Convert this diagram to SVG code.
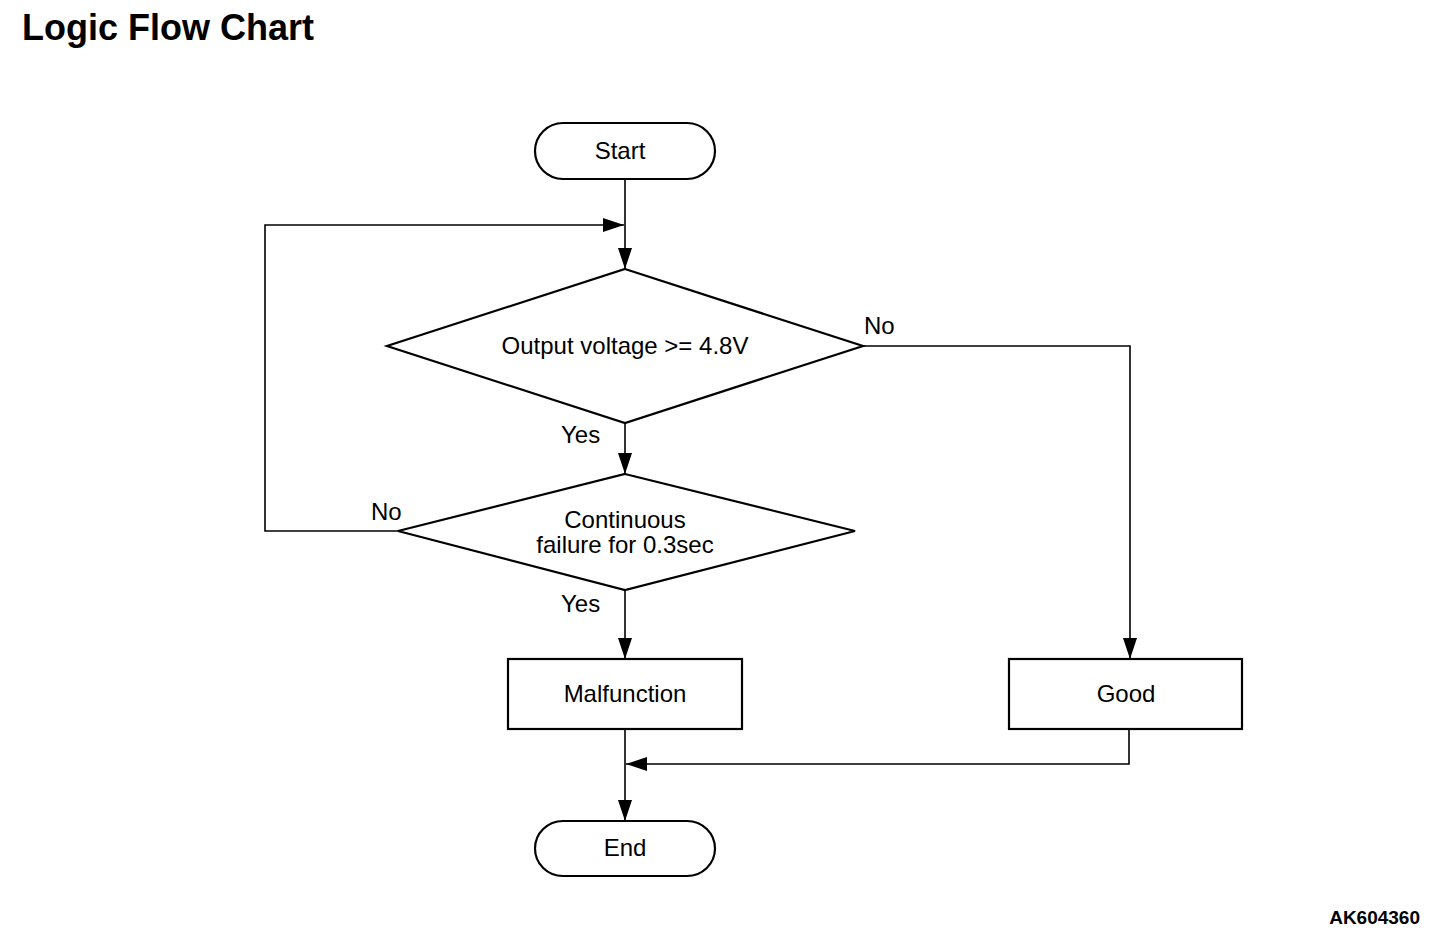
<svg xmlns="http://www.w3.org/2000/svg" width="1456" height="940" viewBox="0 0 1456 940">
<style>
.shape{fill:#fff;stroke:#000;stroke-width:2.2}
.conn{fill:none;stroke:#000;stroke-width:1.6}
.t{font-family:"Liberation Sans",Arial,sans-serif;font-size:24px;fill:#000}
.m{text-anchor:middle}
</style>
<defs>
<marker id="ah" markerUnits="userSpaceOnUse" markerWidth="22" markerHeight="16" refX="21" refY="7" orient="auto">
<path d="M0,0 L21,7 L0,14 Z" fill="#000"/>
</marker>
</defs>
<rect width="1456" height="940" fill="#fff"/>
<text x="22" y="40" font-family="Liberation Sans,Arial,sans-serif" font-size="36" font-weight="bold">Logic Flow Chart</text>
<text x="1420" y="924" font-family="Liberation Sans,Arial,sans-serif" font-size="19" font-weight="bold" text-anchor="end">AK604360</text>
<g id="connectors">
<path class="conn" d="M625,179 V269" marker-end="url(#ah)"/>
<path class="conn" d="M398,531 H265 V225 H624" marker-end="url(#ah)"/>
<path class="conn" d="M625,423 V474" marker-end="url(#ah)"/>
<path class="conn" d="M863,346 H1130 V659" marker-end="url(#ah)"/>
<path class="conn" d="M625,590 V659" marker-end="url(#ah)"/>
<path class="conn" d="M1129,729 V764 H626" marker-end="url(#ah)"/>
<path class="conn" d="M625,729 V821" marker-end="url(#ah)"/>
<text class="t" x="864" y="334">No</text>
<text class="t" x="561" y="443">Yes</text>
<text class="t" x="371" y="520">No</text>
<text class="t" x="561" y="612">Yes</text>
</g>
<g id="start">
<rect class="shape" x="535" y="123" width="180" height="56" rx="28"/>
<text class="t m" x="620" y="159">Start</text>
</g>
<g id="decision1">
<polygon class="shape" points="625,269 863,346 625,423 387,346"/>
<text class="t m" x="625" y="354">Output voltage &gt;= 4.8V</text>
</g>
<g id="decision2">
<polygon class="shape" points="625,474 855,531 625,590 398,531"/>
<text class="t m" x="625" y="528">Continuous</text>
<text class="t m" x="625" y="553">failure for 0.3sec</text>
</g>
<g id="malfunction">
<rect class="shape" x="508" y="659" width="234" height="70"/>
<text class="t m" x="625" y="702">Malfunction</text>
</g>
<g id="good">
<rect class="shape" x="1009" y="659" width="233" height="70"/>
<text class="t m" x="1126" y="702">Good</text>
</g>
<g id="end">
<rect class="shape" x="535" y="821" width="180" height="55" rx="28"/>
<text class="t m" x="625" y="856">End</text>
</g>
</svg>
